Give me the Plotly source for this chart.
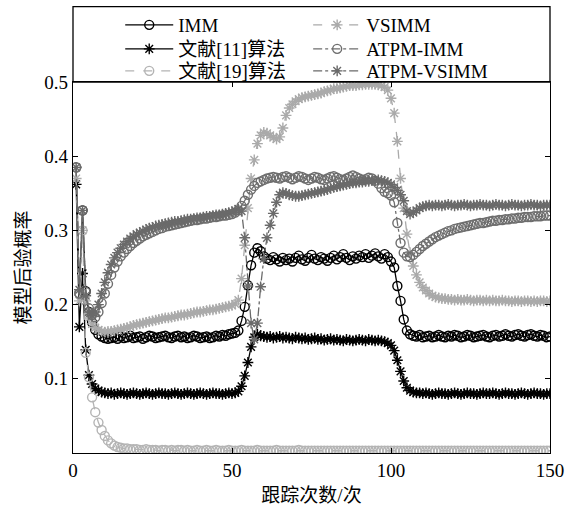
import plotly.graph_objects as go

steps = list(range(1, 151))

imm = [0.385, 0.215, 0.327, 0.218, 0.190, 0.176, 0.166, 0.160, 0.157, 0.155,
       0.154, 0.155, 0.156, 0.154, 0.157, 0.155, 0.156, 0.158, 0.155, 0.156,
       0.157, 0.154, 0.156, 0.158, 0.157, 0.155, 0.156, 0.157, 0.158, 0.156,
       0.155, 0.157, 0.158, 0.156, 0.157, 0.155, 0.156, 0.158, 0.157, 0.155,
       0.156, 0.157, 0.155, 0.156, 0.158, 0.157, 0.159, 0.158, 0.160, 0.161,
       0.162, 0.165, 0.178, 0.197, 0.226, 0.253, 0.270, 0.276, 0.272, 0.265,
       0.262, 0.260, 0.264, 0.261, 0.258, 0.263, 0.260, 0.262, 0.258, 0.263,
       0.266, 0.261, 0.259, 0.263, 0.267, 0.262, 0.260, 0.264, 0.262, 0.259,
       0.263, 0.266, 0.261, 0.264, 0.268, 0.263, 0.260, 0.265, 0.262, 0.266,
       0.264, 0.268, 0.263, 0.266, 0.269, 0.265, 0.262, 0.268, 0.264, 0.258,
       0.250, 0.225, 0.205, 0.180, 0.165, 0.160, 0.158, 0.157, 0.159, 0.156,
       0.157, 0.158, 0.156, 0.157, 0.159, 0.157, 0.156, 0.158, 0.157, 0.159,
       0.158, 0.156, 0.157, 0.159, 0.158, 0.156, 0.157, 0.158, 0.159, 0.157,
       0.156, 0.158, 0.159, 0.157, 0.158, 0.160, 0.158, 0.157, 0.159, 0.160,
       0.158, 0.157, 0.159, 0.160, 0.158, 0.157, 0.159, 0.158, 0.156, 0.157]

ref11 = [0.362, 0.170, 0.242, 0.139, 0.105, 0.093, 0.087, 0.084, 0.082, 0.081,
         0.080, 0.081, 0.079, 0.080, 0.081, 0.080, 0.079, 0.080, 0.081, 0.080,
         0.079, 0.080, 0.081, 0.080, 0.079, 0.080, 0.081, 0.080, 0.080, 0.079,
         0.080, 0.081, 0.080, 0.079, 0.080, 0.081, 0.080, 0.079, 0.080, 0.081,
         0.080, 0.079, 0.080, 0.081, 0.080, 0.080, 0.079, 0.080, 0.081, 0.080,
         0.081, 0.083, 0.090, 0.104, 0.122, 0.143, 0.156, 0.160, 0.158, 0.157,
         0.156, 0.157, 0.155, 0.156, 0.157, 0.155, 0.156, 0.155, 0.154, 0.156,
         0.155, 0.154, 0.155, 0.153, 0.154, 0.155, 0.153, 0.154, 0.152, 0.153,
         0.154, 0.152, 0.153, 0.152, 0.151, 0.153, 0.152, 0.151, 0.152, 0.153,
         0.152, 0.151, 0.153, 0.152, 0.151, 0.152, 0.151, 0.150, 0.148, 0.145,
         0.138, 0.125, 0.110, 0.097, 0.088, 0.084, 0.082, 0.081, 0.081, 0.080,
         0.081, 0.080, 0.079, 0.080, 0.081, 0.080, 0.080, 0.079, 0.080, 0.081,
         0.080, 0.079, 0.080, 0.081, 0.080, 0.080, 0.079, 0.080, 0.081, 0.080,
         0.080, 0.081, 0.080, 0.079, 0.080, 0.081, 0.080, 0.080, 0.079, 0.080,
         0.081, 0.080, 0.079, 0.080, 0.081, 0.080, 0.080, 0.079, 0.080, 0.080]

ref19 = [0.385, 0.215, 0.300, 0.135, 0.102, 0.075, 0.055, 0.041, 0.031, 0.023,
         0.017, 0.013, 0.010, 0.008, 0.007, 0.006, 0.006, 0.005, 0.005, 0.005,
         0.004, 0.004, 0.005, 0.004, 0.004, 0.004, 0.003, 0.004, 0.004, 0.003,
         0.004, 0.003, 0.004, 0.004, 0.003, 0.004, 0.003, 0.003, 0.004, 0.003,
         0.003, 0.004, 0.003, 0.003, 0.004, 0.003, 0.003, 0.003, 0.004, 0.003,
         0.003, 0.003, 0.004, 0.003, 0.003, 0.003, 0.003, 0.004, 0.003, 0.003,
         0.003, 0.003, 0.003, 0.004, 0.003, 0.003, 0.003, 0.003, 0.003, 0.003,
         0.004, 0.003, 0.003, 0.003, 0.003, 0.003, 0.003, 0.003, 0.003, 0.003,
         0.003, 0.003, 0.003, 0.003, 0.003, 0.003, 0.003, 0.003, 0.003, 0.003,
         0.003, 0.003, 0.003, 0.003, 0.003, 0.003, 0.003, 0.003, 0.003, 0.003,
         0.003, 0.003, 0.003, 0.003, 0.003, 0.003, 0.003, 0.003, 0.003, 0.003,
         0.003, 0.003, 0.003, 0.003, 0.003, 0.003, 0.003, 0.003, 0.003, 0.003,
         0.003, 0.003, 0.003, 0.003, 0.003, 0.003, 0.003, 0.003, 0.003, 0.003,
         0.003, 0.003, 0.003, 0.003, 0.003, 0.003, 0.003, 0.003, 0.003, 0.003,
         0.003, 0.003, 0.003, 0.003, 0.003, 0.003, 0.003, 0.003, 0.003, 0.003]

vsimm = [0.370, 0.205, 0.300, 0.205, 0.182, 0.174, 0.169, 0.166, 0.164, 0.163,
         0.164, 0.164, 0.165, 0.166, 0.167, 0.168, 0.169, 0.170, 0.172, 0.173,
         0.174, 0.175, 0.176, 0.177, 0.178, 0.179, 0.180, 0.181, 0.182, 0.182,
         0.183, 0.184, 0.185, 0.186, 0.186, 0.187, 0.188, 0.189, 0.190, 0.190,
         0.191, 0.192, 0.193, 0.193, 0.194, 0.195, 0.196, 0.197, 0.198, 0.199,
         0.201, 0.206, 0.235, 0.280, 0.330, 0.370, 0.395, 0.417, 0.428, 0.432,
         0.431, 0.428, 0.425, 0.423, 0.426, 0.438, 0.455, 0.465, 0.470, 0.474,
         0.477, 0.479, 0.480, 0.481, 0.482, 0.483, 0.484, 0.485, 0.487, 0.488,
         0.489, 0.491, 0.491, 0.492, 0.493, 0.494, 0.495, 0.495, 0.495, 0.496,
         0.496, 0.497, 0.497, 0.497, 0.497, 0.496, 0.495, 0.493, 0.489, 0.478,
         0.458, 0.420, 0.370, 0.330, 0.295, 0.270, 0.252, 0.240, 0.230, 0.223,
         0.219, 0.215, 0.212, 0.210, 0.209, 0.208, 0.208, 0.207, 0.207, 0.206,
         0.207, 0.206, 0.206, 0.207, 0.206, 0.205, 0.206, 0.206, 0.205, 0.206,
         0.205, 0.206, 0.205, 0.205, 0.206, 0.205, 0.205, 0.204, 0.205, 0.205,
         0.204, 0.205, 0.205, 0.204, 0.205, 0.204, 0.205, 0.205, 0.204, 0.205]

atpm_imm = [0.385, 0.215, 0.327, 0.217, 0.195, 0.186, 0.183, 0.190, 0.202, 0.215,
            0.228, 0.240, 0.250, 0.258, 0.265, 0.270, 0.275, 0.279, 0.283, 0.286,
            0.289, 0.292, 0.294, 0.296, 0.298, 0.300, 0.302, 0.303, 0.305, 0.306,
            0.307, 0.308, 0.309, 0.310, 0.311, 0.312, 0.313, 0.314, 0.314, 0.315,
            0.316, 0.316, 0.317, 0.318, 0.318, 0.319, 0.320, 0.320, 0.321, 0.322,
            0.324, 0.327, 0.333, 0.340, 0.348, 0.355, 0.360, 0.364, 0.366, 0.368,
            0.370, 0.371, 0.372, 0.371, 0.370, 0.372, 0.373, 0.371, 0.369, 0.371,
            0.373, 0.372, 0.370, 0.368, 0.370, 0.372, 0.371, 0.369, 0.368, 0.370,
            0.372, 0.373, 0.371, 0.369, 0.368, 0.370, 0.372, 0.374, 0.372, 0.370,
            0.368, 0.369, 0.371, 0.370, 0.367, 0.363, 0.357, 0.352, 0.350, 0.347,
            0.338, 0.310, 0.283, 0.270, 0.265, 0.264, 0.267, 0.271, 0.275, 0.279,
            0.282, 0.285, 0.288, 0.291, 0.293, 0.295, 0.297, 0.299, 0.300, 0.302,
            0.303, 0.304, 0.305, 0.306, 0.307, 0.308, 0.309, 0.310, 0.310, 0.311,
            0.312, 0.313, 0.313, 0.314, 0.314, 0.315, 0.315, 0.316, 0.316, 0.317,
            0.317, 0.318, 0.318, 0.318, 0.319, 0.319, 0.319, 0.320, 0.320, 0.320]

atpm_vsimm = [0.385, 0.220, 0.327, 0.212, 0.190, 0.185, 0.190, 0.200, 0.215, 0.230,
              0.243, 0.254, 0.263, 0.270, 0.276, 0.281, 0.285, 0.289, 0.292, 0.295,
              0.297, 0.299, 0.301, 0.303, 0.304, 0.306, 0.307, 0.308, 0.309, 0.310,
              0.311, 0.312, 0.312, 0.313, 0.314, 0.315, 0.315, 0.316, 0.317, 0.317,
              0.318, 0.319, 0.319, 0.320, 0.321, 0.321, 0.322, 0.323, 0.324, 0.325,
              0.327, 0.329, 0.326, 0.290, 0.225, 0.175, 0.153, 0.175, 0.224, 0.262,
              0.290, 0.307, 0.323, 0.338, 0.348, 0.351, 0.350, 0.348, 0.347, 0.346,
              0.346, 0.347, 0.348, 0.349, 0.350, 0.351, 0.352, 0.353, 0.354, 0.355,
              0.357, 0.358, 0.359, 0.360, 0.361, 0.362, 0.363, 0.364, 0.364, 0.365,
              0.365, 0.366, 0.366, 0.367, 0.367, 0.368, 0.367, 0.366, 0.364, 0.362,
              0.358, 0.354, 0.348, 0.340, 0.326, 0.322, 0.324, 0.327, 0.330, 0.332,
              0.333, 0.334, 0.333, 0.334, 0.334, 0.333, 0.334, 0.335, 0.334, 0.333,
              0.334, 0.334, 0.335, 0.334, 0.333, 0.334, 0.334, 0.335, 0.334, 0.334,
              0.333, 0.334, 0.335, 0.334, 0.334, 0.333, 0.334, 0.335, 0.334, 0.334,
              0.333, 0.334, 0.334, 0.335, 0.334, 0.334, 0.333, 0.334, 0.334, 0.334]

names = ["IMM", "文献[11]算法", "文献[19]算法", "VSIMM", "ATPM-IMM", "ATPM-VSIMM"]
series = [imm, ref11, ref19, vsimm, atpm_imm, atpm_vsimm]
colors = ["#000000", "#000000", "#b4b4b4", "#aaaaaa", "#6e6e6e", "#6a6a6a"]
dashes = ["solid", "solid", "dash", "dash", "dashdot", "dashdot"]
symbols = ["circle-open", "asterisk-open", "circle-open", "asterisk-open", "circle-open", "asterisk-open"]
legend_ids = ["legend", "legend2", "legend3", "legend4", "legend5", "legend6"]

SERIF = "Liberation Serif, Times New Roman, Noto Sans CJK SC, serif"

fig = go.Figure()
for nm, ys, c, d, s, lg in zip(names, series, colors, dashes, symbols, legend_ids):
    fig.add_trace(go.Scatter(
        x=steps, y=ys, name=nm, mode="lines+markers", legend=lg,
        line=dict(color=c, width=1.3, dash=d),
        marker=dict(symbol=s, size=9, color=c, line=dict(color=c, width=1.4)),
    ))

axis_common = dict(showline=True, linecolor="black", linewidth=1.3, mirror="ticks",
                   ticks="inside", ticklen=5, tickcolor="black", tickwidth=1,
                   showgrid=False, zeroline=False, automargin=False,
                   tickfont=dict(family=SERIF, size=19, color="black"))

fig.update_xaxes(range=[0, 150], tickvals=[0, 50, 100, 150],
                 title=dict(text="跟踪次数/次", font=dict(family=SERIF, size=19, color="black"), standoff=11),
                 **axis_common)
fig.update_yaxes(range=[0, 0.5], tickvals=[0.1, 0.2, 0.3, 0.4, 0.5], ticktext=["0.1", "0.2", "0.3", "0.4", "0.5"],
                 title=dict(text="模型后验概率", font=dict(family=SERIF, size=19, color="black"), standoff=8),
                 **axis_common)

legfont = dict(family=SERIF, size=19, color="black")
row_y = [1 - 25 / 506, 1 - 49 / 506, 1 - 71 / 506]
col_x = [0.099, 0.493]
legend_layout = {}
for i, lg in enumerate(legend_ids):
    legend_layout[lg] = dict(x=col_x[i // 3], y=row_y[i % 3], xref="paper", yref="container",
                             xanchor="left", yanchor="middle", font=legfont,
                             bgcolor="rgba(0,0,0,0)", borderwidth=0, itemwidth=48)

fig.update_layout(
    width=573, height=506,
    margin=dict(l=73, r=23, t=82, b=53, autoexpand=False),
    paper_bgcolor="white", plot_bgcolor="white",
    showlegend=True,
    shapes=[dict(type="rect", xref="paper", yref="paper", x0=0, x1=1, y0=1, y1=1.203,
                 line=dict(color="black", width=1.3), fillcolor="rgba(0,0,0,0)", layer="above")],
    **legend_layout,
)

fig.write_html("out.html")
